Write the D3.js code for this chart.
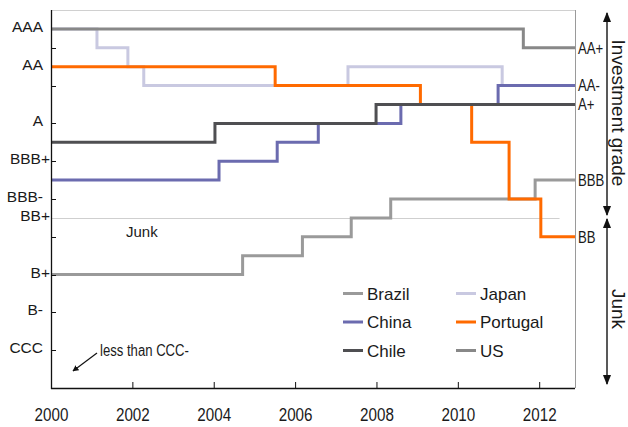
<!DOCTYPE html>
<html>
<head>
<meta charset="utf-8">
<script src="https://cdn.jsdelivr.net/npm/d3@7/dist/d3.min.js"></script>
<style>
  html, body { margin: 0; padding: 0; background: #fff; }
  svg { display: block; }
  text { font-family: "Liberation Sans", Arial, sans-serif; fill: #1a1a1a; }
</style>
</head>
<body>
<svg id="chart" width="628" height="427"></svg>
<script>
// ---- data ----
const ratingScale = ["AAA","AA+","AA","AA-","A+","A","A-","BBB+","BBB","BBB-","BB+","BB","BB-","B+","B","B-","CCC+","CCC","CCC-","<CCC-"];
const yearStart = 2000;
const yearEnd = 2012.88;
const xTickYears = [2000, 2002, 2004, 2006, 2008, 2010, 2012];
const leftLabels = ["AAA","AA","A","BBB+","BBB-","BB+","B+","B-","CCC"];
const leftTicks = ["AA+","AA-","A","BBB+","BBB-","BB","B+","B-","CCC"];
const rightLabels = ["AA+","AA-","A+","BBB","BB"];
const junkLine = "BB+";

const japanDates    = [2000, 2001.13, 2001.89, 2002.28, 2007.30, 2011.09];
const japanRatings  = ["AAA","AA+","AA","AA-","AA","AA-"];
const brazilDates   = [2000, 2004.71, 2006.18, 2007.38, 2008.35, 2011.90];
const brazilRatings = ["B+","BB-","BB","BB+","BBB-","BBB"];
const chinaDates    = [2000, 2004.13, 2005.56, 2006.57, 2008.60, 2010.99];
const chinaRatings  = ["BBB","BBB+","A-","A","A+","AA-"];
const portugalDates   = [2000, 2005.51, 2009.08, 2010.34, 2011.26, 2012.04];
const portugalRatings = ["AA","AA-","A+","A-","BBB-","BB"];
const chileDates    = [2000, 2004.03, 2007.99];
const chileRatings  = ["A-","A","A+"];
const usDates       = [2000, 2011.61];
const usRatings     = ["AAA","AA+"];

const series = [
  {name: "Japan",    dates: japanDates,    ratings: japanRatings,    color: "#c9c9e1"},
  {name: "Brazil",   dates: brazilDates,   ratings: brazilRatings,   color: "#9a9a9a"},
  {name: "China",    dates: chinaDates,    ratings: chinaRatings,    color: "#6b6baf"},
  {name: "Portugal", dates: portugalDates, ratings: portugalRatings, color: "#ff6a00"},
  {name: "Chile",    dates: chileDates,    ratings: chileRatings,    color: "#4f4f52"},
  {name: "US",       dates: usDates,       ratings: usRatings,       color: "#888888"}
];
const legendCol1 = ["Brazil","China","Chile"];
const legendCol2 = ["Japan","Portugal","US"];

// ---- layout ----
const svg = d3.select("#chart");
const L = 51, R = 575, T = 10, B = 388;
const NARROW = 0.82;

const x = d3.scaleLinear().domain([yearStart, yearEnd]).range([L, R]);
const idx = r => ratingScale.indexOf(r);
const y = d3.scaleLinear().domain([-1, 19]).range([T, B]);

// frame: top & right
svg.append("line").attr("x1", L).attr("x2", R).attr("y1", T + 0.5).attr("y2", T + 0.5)
  .attr("stroke", "#d0d0d0").attr("stroke-width", 1);
svg.append("line").attr("x1", R + 0.5).attr("x2", R + 0.5).attr("y1", T).attr("y2", B)
  .attr("stroke", "#9a9a9a").attr("stroke-width", 1);

// junk threshold line
svg.append("line").attr("x1", L).attr("x2", x(2012.5))
  .attr("y1", Math.round(y(idx(junkLine))) + 0.5).attr("y2", Math.round(y(idx(junkLine))) + 0.5)
  .attr("stroke", "#cfcfcf").attr("stroke-width", 1);

// series
const line = d3.line().curve(d3.curveStepAfter).x(d => x(d[0])).y(d => y(idx(d[1])));
series.forEach(s => {
  const pts = s.dates.map((d, i) => [d, s.ratings[i]]);
  pts.push([yearEnd, s.ratings[s.ratings.length - 1]]);
  svg.append("path").datum(pts).attr("d", line)
    .attr("fill", "none").attr("stroke", s.color).attr("stroke-width", 3)
    .attr("stroke-linejoin", "miter");
});

// left axis
const yAxisG = svg.append("g").attr("transform", `translate(${L},0)`);
yAxisG.append("line").attr("x1", 0.5).attr("x2", 0.5).attr("y1", T).attr("y2", B + 1)
  .attr("stroke", "#111").attr("stroke-width", 1.3);
yAxisG.selectAll("line.tk").data(leftTicks).join("line").attr("class", "tk")
  .attr("x1", 0).attr("x2", 5)
  .attr("y1", d => Math.round(y(idx(d))) + 0.5).attr("y2", d => Math.round(y(idx(d))) + 0.5)
  .attr("stroke", "#111").attr("stroke-width", 1);
svg.selectAll("text.yl").data(leftLabels).join("text").attr("class", "yl")
  .attr("x", d => d.endsWith("+") ? 50 : 43)
  .attr("y", d => y(idx(d)) - 2.5)
  .attr("dy", "0.36em")
  .attr("text-anchor", "end")
  .style("font-size", "15.5px")
  .text(d => d);

// bottom axis
const xAxis = d3.axisBottom(x).tickValues(xTickYears).tickFormat(d3.format("d"))
  .tickSize(-6).tickPadding(20);
const xg = svg.append("g").attr("transform", `translate(0,${B})`).call(xAxis);
xg.select(".domain").attr("stroke", "#111").attr("stroke-width", 1.3).attr("d", `M${L},0.5H${R}`);
xg.selectAll(".tick line").attr("stroke", "#111");
xg.selectAll(".tick text")
  .style("font-family", '"Liberation Sans", Arial, sans-serif')
  .style("font-size", "19px").attr("fill", "#1a1a1a")
  .attr("transform", `scale(0.8,1)`);

// right labels (condensed)
svg.selectAll("text.rl").data(rightLabels).join("text").attr("class", "rl")
  .attr("transform", d => `translate(${R + 3},${y(idx(d))}) scale(${NARROW},1)`)
  .attr("dy", "0.36em")
  .style("font-size", "16px")
  .text(d => d);

// Junk label inside plot
svg.append("text").attr("x", 126).attr("y", 237).style("font-size", "15px").text("Junk");

// less than CCC- annotation
svg.append("defs").html(`
  <marker id="ah" viewBox="0 0 10 10" refX="9" refY="5" markerWidth="7" markerHeight="7" orient="auto-start-reverse">
    <path d="M0,1 L10,5 L0,9 z" fill="#111"/>
  </marker>
  <marker id="ah2" viewBox="0 0 10 10" refX="9" refY="5" markerWidth="5" markerHeight="5" orient="auto-start-reverse">
    <path d="M0,0 L10,5 L0,10 z" fill="#111"/>
  </marker>`);
svg.append("text").attr("transform", `translate(100,356) scale(${NARROW},1)`)
  .style("font-size", "16px")
  .text("less than CCC-");
svg.append("line").attr("x1", 97).attr("y1", 353).attr("x2", 73).attr("y2", 371)
  .attr("stroke", "#111").attr("stroke-width", 1.2).attr("marker-end", "url(#ah2)");

// right side arrows
const ax = 607;
svg.append("line").attr("x1", ax).attr("x2", ax).attr("y1", 13).attr("y2", 215)
  .attr("stroke", "#222").attr("stroke-width", 1.5)
  .attr("marker-start", "url(#ah)").attr("marker-end", "url(#ah)");
svg.append("line").attr("x1", ax).attr("x2", ax).attr("y1", 219).attr("y2", 384)
  .attr("stroke", "#222").attr("stroke-width", 1.5)
  .attr("marker-start", "url(#ah)").attr("marker-end", "url(#ah)");
svg.append("text").attr("transform", "translate(612,113) rotate(90)")
  .attr("text-anchor", "middle").style("font-size", "19px").text("Investment grade");
svg.append("text").attr("transform", "translate(612,309) rotate(90)")
  .attr("text-anchor", "middle").style("font-size", "19px").text("Junk");

// legend
const colorOf = n => series.find(s => s.name === n).color;
function legendCol(names, sx, tx) {
  names.forEach((n, i) => {
    const cy = 293.5 + i * 28.5;
    svg.append("line").attr("x1", sx).attr("x2", sx + 20).attr("y1", cy).attr("y2", cy)
      .attr("stroke", colorOf(n)).attr("stroke-width", 3);
    svg.append("text").attr("x", tx).attr("y", cy).attr("dy", "0.36em")
      .style("font-size", "17px").text(n);
  });
}
legendCol(legendCol1, 343, 367);
legendCol(legendCol2, 456, 480);
</script>
</body>
</html>
